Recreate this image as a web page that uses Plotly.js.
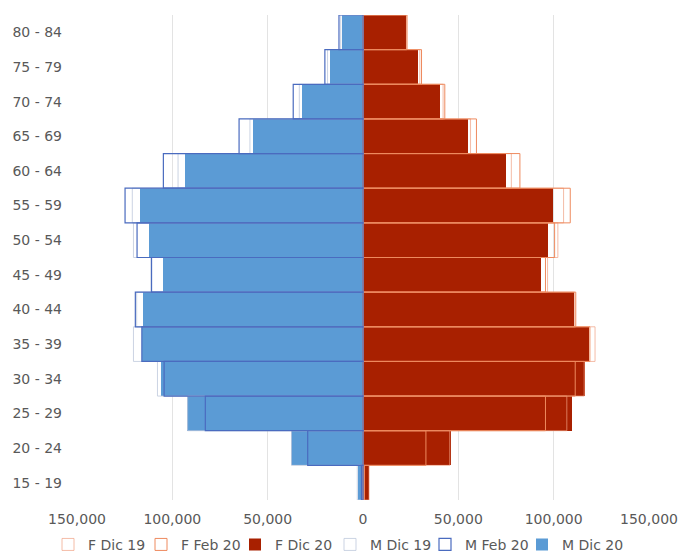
<!DOCTYPE html>
<html>
<head>
<meta charset="utf-8">
<script src="https://cdn.plot.ly/plotly-3.0.1.min.js"></script>
<style>html,body{margin:0;padding:0;background:#fff;}#chart{width:680px;height:552px;}</style>
</head>
<body>
<div id="chart"></div>
<script>
const ageGroups = ['15 - 19','20 - 24','25 - 29','30 - 34','35 - 39','40 - 44','45 - 49','50 - 54','55 - 59','60 - 64','65 - 69','70 - 74','75 - 79','80 - 84'];

const fDic19 = [3200, 45500, 106900, 116000, 121700, 111000, 96800, 102200, 105200, 77800, 56400, 42000, 29800, 22800];
const fFeb20 = [800, 33000, 95700, 111300, 119000, 111600, 95700, 100500, 108700, 82300, 59500, 42900, 30700, 23100];
const fDic20 = [3000, 46000, 109700, 116600, 118700, 110700, 93100, 97000, 99500, 74900, 55000, 40300, 29000, 22400];

const mDic19 = [3000, 37500, 92000, 107800, 120400, 118700, 111200, 120400, 121000, 97000, 59300, 33400, 18600, 11700];
const mFeb20 = [800, 29000, 82700, 104300, 116000, 119400, 110900, 118500, 124800, 104700, 65000, 36600, 20000, 12600];
const mDic20 = [2700, 37700, 92200, 106100, 115900, 115200, 104800, 112100, 116800, 93400, 57900, 32100, 17400, 11200];

const tickVals = [-150000, -100000, -50000, 0, 50000, 100000, 150000];
const tickText = ['150,000', '100,000', '50,000', '0', '50,000', '100,000', '150,000'];

const neg = a => a.map(v => -v);
const base = {type: 'bar', orientation: 'h', y: ageGroups, width: 1, hoverinfo: 'skip'};

const traces = [
  Object.assign({}, base, {name: 'F Dic 20', x: fDic20, legend: 'legend3',
    marker: {color: '#a82000', line: {width: 0}}}),
  Object.assign({}, base, {name: 'M Dic 20', x: neg(mDic20), legend: 'legend6',
    marker: {color: '#5b9bd5', line: {width: 0}}}),
  Object.assign({}, base, {name: 'F Dic 19', x: fDic19, legend: 'legend',
    marker: {color: 'rgba(0,0,0,0)', line: {color: 'rgba(240,160,130,0.7)', width: 1}}}),
  Object.assign({}, base, {name: 'M Dic 19', x: neg(mDic19), legend: 'legend4',
    marker: {color: 'rgba(0,0,0,0)', line: {color: 'rgba(190,200,220,0.8)', width: 1}}}),
  Object.assign({}, base, {name: 'F Feb 20', x: fFeb20, legend: 'legend2',
    marker: {color: 'rgba(0,0,0,0)', line: {color: '#ee8a5e', width: 1}}}),
  Object.assign({}, base, {name: 'M Feb 20', x: neg(mFeb20), legend: 'legend5',
    marker: {color: 'rgba(0,0,0,0)', line: {color: '#4a6bbf', width: 1.2}}})
];

// legend anchor positions (px from left) for the six entries
const legendTextX = [88, 181, 275, 370, 465, 562];
function legendAt(px) {
  return {
    orientation: 'h', xref: 'container', yref: 'container',
    x: (px - 40) / 680, xanchor: 'left', y: 0.013, yanchor: 'middle',
    itemwidth: 30, font: {size: 14, color: '#595959'}, bgcolor: 'rgba(0,0,0,0)'
  };
}

const layout = {
  width: 680, height: 552,
  margin: {l: 77, r: 31, t: 15, b: 52},
  paper_bgcolor: '#ffffff', plot_bgcolor: '#ffffff',
  barmode: 'overlay', bargap: 0,
  font: {family: 'DejaVu Sans, Verdana, sans-serif', size: 14, color: '#595959'},
  xaxis: {
    range: [-150000, 150000], tickvals: tickVals, ticktext: tickText,
    showgrid: true, gridcolor: '#e3e3e3', gridwidth: 1, zeroline: false,
    showline: false, ticks: '', ticklabelstandoff: 9, fixedrange: true,
    tickfont: {size: 14, color: '#595959'}
  },
  yaxis: {
    type: 'category', categoryorder: 'array', categoryarray: ageGroups,
    range: [-0.5, 13.5], showgrid: false, zeroline: false, showline: false,
    ticks: '', ticklabelstandoff: 14, fixedrange: true,
    tickfont: {size: 14, color: '#595959'}
  },
  showlegend: true,
  legend: legendAt(legendTextX[0]),
  legend2: legendAt(legendTextX[1]),
  legend3: legendAt(legendTextX[2]),
  legend4: legendAt(legendTextX[3]),
  legend5: legendAt(legendTextX[4]),
  legend6: legendAt(legendTextX[5]),
  hovermode: false
};

Plotly.newPlot('chart', traces, layout, {displayModeBar: false, staticPlot: true});
</script>
</body>
</html>
